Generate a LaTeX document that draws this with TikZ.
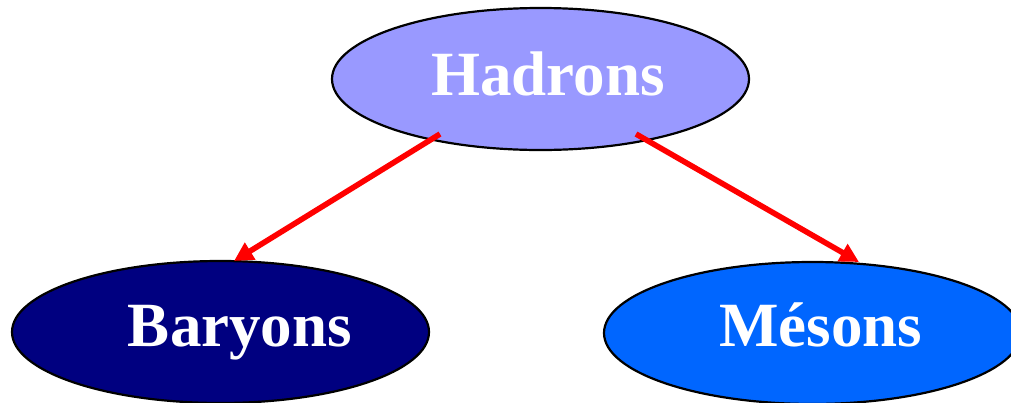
\documentclass[tikz,border=0pt]{standalone}
\usepackage{fontspec}
\setmainfont{Liberation Serif}
\usetikzlibrary{shapes.geometric,arrows.meta}
\definecolor{hadc}{HTML}{9999FF}
\definecolor{barc}{HTML}{000080}
\definecolor{mesc}{HTML}{0066FF}
\tikzset{
  blob/.style={ellipse, draw=black, line width=2.2pt, minimum width=417pt, minimum height=142pt, inner sep=0pt},
  lbl/.style={anchor=base, text=white, font=\fontsize{63}{63}\selectfont\bfseries, inner sep=0pt},
  conn/.style={draw=red, line width=5.6pt, -{Triangle[length=19pt,width=19pt]}}
}
\begin{document}
\begin{tikzpicture}[x=1pt,y=-1pt]
\useasboundingbox (0,0) rectangle (1011,402);
\node[blob, fill=hadc] (had) at (540.5,79) {};
\node[blob, fill=barc] (bar) at (220.5,332) {};
\node[blob, fill=mesc] (mes) at (812.5,333) {};
\node[lbl] (hadt) at (548,95) {Hadrons};
\node[lbl] (bart) at (240,346) {Baryons};
\node[lbl] (mest) at (821,346) {Mésons};
\coordinate (hl) at (440,134);
\coordinate (hr) at (636,134);
\coordinate (bt) at (234,261);
\coordinate (mt) at (859,262);
\draw[conn] (hl) -- (bt);
\draw[conn] (hr) -- (mt);
\end{tikzpicture}
\end{document}
